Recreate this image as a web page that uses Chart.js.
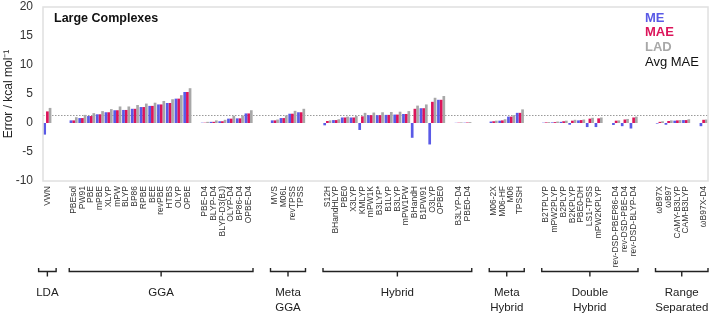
<!DOCTYPE html>
<html>
<head>
<meta charset="utf-8">
<script src="https://cdn.jsdelivr.net/npm/chart.js@4"></script>
<style>
  html, body { margin: 0; padding: 0; background: #fff; }
  #c { display: block; }
</style>
</head>
<body>
<canvas id="c" width="709" height="316"></canvas>
<script>
// ---------------- DATA ----------------
const categories = [
  'VWN', '', '',
  'PBEsol', 'PW91', 'PBE', 'mPBE', 'XLYP', 'mPW', 'BLYP', 'BP86', 'RPBE', 'BEE', 'revPBE', 'HTBS', 'OLYP', 'OPBE', '',
  'PBE-D4', 'BLYP-D4', 'BLYP-D3(BJ)', 'OLYP-D4', 'BP86-D4', 'OPBE-D4', '', '',
  'MVS', 'M06L', 'revTPSS', 'TPSS', '', '',
  'S12H', 'BHandHLYP', 'PBE0', 'X3LYP', 'KMLYP', 'mPW1K', 'B3LYP*', 'B1LYP', 'B3LYP', 'mPW1PW', 'BHandH', 'B1PW91', 'O3LYP', 'OPBE0', '',
  'B3LYP-D4', 'PBE0-D4', '', '',
  'M06-2X', 'M06-HF', 'M06', 'TPSSH', '', '',
  'B2TPLYP', 'mPW2PLYP', 'B2PLYP', 'B2KPLYP', 'PBE0-DH', 'LS1-TPSS', 'mPW2KPLYP', '',
  'rev-DSD-PBEP86-D4', 'rev-DSD-PBE-D4', 'rev-DSD-BLYP-D4', '', '',
  'ωB97X', 'ωB97', 'CAMY-B3LYP', 'CAM-B3LYP', '',
  'ωB97X-D4'
];

const meValues = [
  -2.0, null, null,
  0.45, 0.85, 1.2, 1.5, 1.85, 2.2, 2.25, 2.45, 2.75, 2.95, 3.2, 3.45, 4.2, 5.35, null,
  0.05, 0.2, 0.3, 0.75, 0.8, 1.65, null, null,
  0.45, 0.85, 1.6, 1.85, null, null,
  -0.4, 0.5, 0.95, 0.95, -1.2, 1.35, 1.35, 1.4, 1.45, 1.55, -2.55, 2.55, -3.7, 4.0, null,
  0.03, 0.05, null, null,
  0.25, 0.4, 1.1, 1.75, null, null,
  0.05, 0.1, 0.2, -0.3, 0.45, -0.7, -0.7, null,
  -0.35, -0.55, -0.95, null, null,
  -0.1, -0.3, 0.4, 0.5, null,
  -0.55
];

const maeValues = [
  2.0, null, null,
  0.45, 0.85, 1.2, 1.5, 1.85, 2.2, 2.25, 2.45, 2.75, 2.95, 3.2, 3.45, 4.2, 5.35, null,
  0.05, 0.2, 0.3, 0.75, 0.8, 1.65, null, null,
  0.45, 0.85, 1.6, 1.85, null, null,
  0.35, 0.5, 0.95, 0.95, 1.15, 1.35, 1.35, 1.4, 1.45, 1.55, 2.45, 2.55, 3.65, 4.0, null,
  0.05, 0.08, null, null,
  0.3, 0.45, 1.1, 1.75, null, null,
  0.1, 0.15, 0.3, 0.4, 0.5, 0.75, 0.8, null,
  0.4, 0.6, 0.95, null, null,
  0.2, 0.35, 0.45, 0.5, null,
  0.55
];

const ladValues = [
  2.6, null, null,
  1.0, 1.4, 1.7, 2.05, 2.4, 2.85, 2.85, 3.1, 3.35, 3.5, 3.8, 4.1, 4.8, 6.0, null,
  0.2, 0.45, 0.55, 1.25, 1.3, 2.2, null, null,
  0.6, 1.3, 2.1, 2.45, null, null,
  0.45, 0.65, 1.1, 1.2, 1.75, 1.8, 1.85, 1.9, 1.95, 2.05, 3.0, 3.2, 4.35, 4.65, null,
  0.1, 0.15, null, null,
  0.4, 0.65, 1.35, 2.35, null, null,
  0.15, 0.25, 0.4, 0.55, 0.6, 0.9, 0.95, null,
  0.45, 0.7, 1.1, null, null,
  0.3, 0.45, 0.5, 0.65, null,
  0.6
];

const avgMAE = 1.37;

const yTicks = [-10, -5, 0, 5, 10, 15, 20];

const groups = [
  { lines: ['LDA'], first: 'VWN', last: 'VWN' },
  { lines: ['GGA'], first: 'PBEsol', last: 'OPBE-D4' },
  { lines: ['Meta', 'GGA'], first: 'MVS', last: 'TPSS' },
  { lines: ['Hybrid'], first: 'S12H', last: 'PBE0-D4' },
  { lines: ['Meta', 'Hybrid'], first: 'M06-2X', last: 'TPSSH' },
  { lines: ['Double', 'Hybrid'], first: 'B2TPLYP', last: 'rev-DSD-BLYP-D4' },
  { lines: ['Range', 'Separated'], first: 'ωB97X', last: 'ωB97X-D4' }
];

const legendItems = [
  { text: 'ME', color: '#5a5ae6', bold: true },
  { text: 'MAE', color: '#dc145a', bold: true },
  { text: 'LAD', color: '#a8a8a8', bold: true },
  { text: 'Avg MAE', color: '#111111', bold: false }
];

const panelTitle = 'Large Complexes';

// ---------------- STYLE ----------------
const FONT = "'Liberation Sans', Arial, Helvetica, sans-serif";
const COLORS = { me: '#5a5ae6', mae: '#dc145a', lad: '#a8a8a8' };

const decor = {
  id: 'decor',
  beforeDatasetsDraw(chart) {
    const { ctx, chartArea: a, scales } = chart;
    const y = Math.round(scales.y.getPixelForValue(avgMAE)) + 0.5;
    ctx.save();
    ctx.strokeStyle = '#9a9a9a';
    ctx.lineWidth = 1;
    ctx.setLineDash([1.5, 1.5]);
    ctx.beginPath();
    ctx.moveTo(a.left, y);
    ctx.lineTo(a.right, y);
    ctx.stroke();
    ctx.restore();
  },
  afterDraw(chart) {
    const { ctx, chartArea: a, scales } = chart;
    const xs = scales.x;
    ctx.save();
    // plot frame
    ctx.strokeStyle = '#e0e0e0';
    ctx.lineWidth = 1.5;
    ctx.strokeRect(a.left, a.top, a.right - a.left, a.bottom - a.top);

    // panel title
    ctx.fillStyle = '#111';
    ctx.font = 'bold 12.5px ' + FONT;
    ctx.textAlign = 'left';
    ctx.textBaseline = 'middle';
    ctx.fillText(panelTitle, a.left + 11, a.top + 12);

    // legend
    legendItems.forEach((it, i) => {
      ctx.font = (it.bold ? 'bold ' : '') + '13px ' + FONT;
      ctx.fillStyle = it.color;
      ctx.fillText(it.text, a.right - 63, a.top + 11 + i * 14.7);
    });

    // group brackets
    const slot = xs.getPixelForValue(1) - xs.getPixelForValue(0);
    const yLine = a.bottom + 90.5;
    ctx.strokeStyle = '#222';
    ctx.lineWidth = 1.4;
    ctx.setLineDash([]);
    groups.forEach(g => {
      const i0 = categories.indexOf(g.first);
      const i1 = categories.indexOf(g.last);
      let x0 = xs.getPixelForValue(i0) - slot / 2;
      let x1 = xs.getPixelForValue(i1) + slot / 2;
      const cx = (x0 + x1) / 2;
      if (x1 - x0 < slot * 2) { x0 = cx - slot; x1 = cx + slot; }
      ctx.beginPath();
      ctx.moveTo(x0, yLine - 3.5);
      ctx.lineTo(x0, yLine);
      ctx.lineTo(x1, yLine);
      ctx.lineTo(x1, yLine - 3.5);
      ctx.moveTo(cx, yLine);
      ctx.lineTo(cx, yLine + 5);
      ctx.stroke();
      ctx.fillStyle = '#222';
      ctx.font = '11.5px ' + FONT;
      ctx.textAlign = 'center';
      ctx.textBaseline = 'middle';
      g.lines.forEach((ln, k) => {
        ctx.fillText(ln, cx, yLine + 21.5 + k * 15);
      });
    });
    ctx.restore();
  }
};

new Chart(document.getElementById('c').getContext('2d'), {
  type: 'bar',
  data: {
    labels: categories,
    datasets: [
      { label: 'ME', data: meValues, backgroundColor: COLORS.me },
      { label: 'MAE', data: maeValues, backgroundColor: COLORS.mae },
      { label: 'LAD', data: ladValues, backgroundColor: COLORS.lad }
    ]
  },
  options: {
    animation: false,
    responsive: false,
    maintainAspectRatio: false,
    devicePixelRatio: 1,
    layout: { padding: { top: 7, right: 1, left: 0, bottom: 0 } },
    datasets: { bar: { categoryPercentage: 0.92, barPercentage: 1.0, borderWidth: 0 } },
    plugins: { legend: { display: false }, tooltip: { enabled: false } },
    scales: {
      x: {
        offset: true,
        grid: { display: false, drawTicks: false },
        border: { display: false },
        ticks: {
          autoSkip: false,
          maxRotation: 90,
          minRotation: 90,
          padding: 5,
          color: '#333',
          font: { family: FONT, size: 8.5 }
        },
        afterFit(scale) { scale.height = 135; scale.paddingLeft = 0; scale.paddingRight = 0; }
      },
      y: {
        min: yTicks[0],
        max: yTicks[yTicks.length - 1],
        afterBuildTicks(scale) { scale.ticks = yTicks.map(v => ({ value: v })); },
        grid: { display: false, drawTicks: false },
        border: { display: false },
        ticks: {
          padding: 10,
          color: '#333',
          font: { family: FONT, size: 12 }
        },
        title: {
          display: true,
          text: 'Error / kcal mol⁻¹',
          color: '#222',
          font: { family: FONT, size: 12 },
          padding: { top: 1, bottom: 0 }
        },
        afterFit(scale) { scale.width = 43; scale.paddingTop = 0; scale.paddingBottom = 0; }
      }
    }
  },
  plugins: [decor]
});
</script>
</body>
</html>
